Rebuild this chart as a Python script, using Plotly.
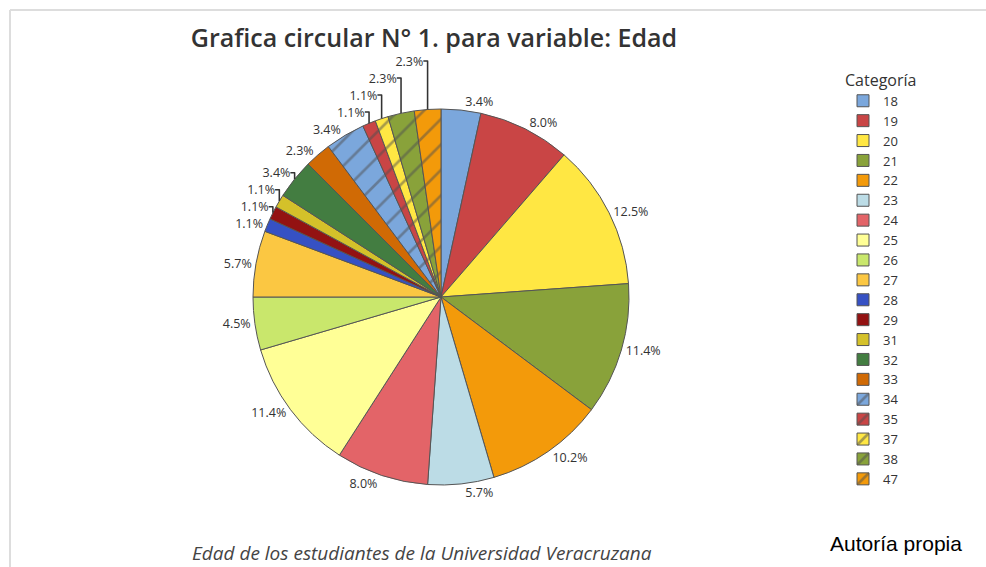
import plotly.graph_objects as go

categories = ["18", "19", "20", "21", "22", "23", "24", "25", "26", "27",
              "28", "29", "31", "32", "33", "34", "35", "37", "38", "47"]
counts = [3, 7, 11, 10, 9, 5, 7, 10, 4, 5, 1, 1, 1, 3, 2, 3, 1, 1, 2, 2]
colors = ["#7BA7DC", "#C94545", "#FFE743", "#89A23A", "#F39A0A", "#BCDCE6",
          "#E36468", "#FFFF96", "#C9E76C", "#FBC742", "#3651C4", "#931212",
          "#D4C12A", "#437D41", "#D06A05", "#7BA7DC", "#C94545", "#FFE743",
          "#89A23A", "#F39A0A"]
hatched = ["34", "35", "37", "38", "47"]

W, H = 986, 567


def px(x):
    return x / W


def py(y):
    return 1 - y / H


cx, cy, r = 441, 297, 188

fig = go.Figure(go.Pie(
    labels=categories,
    values=counts,
    sort=False,
    direction="clockwise",
    rotation=0,
    marker=dict(
        colors=colors,
        line=dict(color="#555555", width=1),
        pattern=dict(
            shape=["/" if c in hatched else "" for c in categories],
            fgcolor="#505050",
            bgcolor=colors,
            size=18,
            solidity=0.15,
            fillmode="overlay",
        ),
    ),
    textposition="outside",
    texttemplate="%{percent:.1%}",
    textfont=dict(family="Open Sans", size=12.5, color="#333333"),
    domain=dict(x=[px(cx - r), px(cx + r)],
                y=[py(cy + r), py(cy - r)]),
    automargin=False,
    showlegend=True,
))

fig.update_layout(
    width=W, height=H,
    margin=dict(l=0, r=0, t=0, b=0),
    paper_bgcolor="white",
    font=dict(family="Open Sans", color="#333333"),
    title=dict(text="Grafica circular N° 1. para variable: Edad",
               x=px(434), xanchor="center", y=py(38), yanchor="middle",
               font=dict(size=25, color="#333333", family="Open Sans",
                         weight=600)),
    legend=dict(
        title=dict(text="Categoría", font=dict(size=16, color="#333333")),
        x=px(843), xanchor="left", y=py(65), yanchor="top",
        font=dict(size=13, color="#333333"),
        tracegroupgap=0, itemwidth=30,
    ),
    annotations=[
        dict(text="<i>Edad de los estudiantes de la Universidad Veracruzana</i>",
             x=px(422), y=py(553), xref="paper", yref="paper",
             xanchor="center", yanchor="middle", showarrow=False,
             font=dict(size=19, color="#444444", family="Open Sans")),
        dict(text="Autoría propia",
             x=px(896), y=py(543), xref="paper", yref="paper",
             xanchor="center", yanchor="middle", showarrow=False,
             font=dict(size=21, color="#000000", family="Liberation Sans")),
    ],
    shapes=[
        dict(type="line", xref="paper", yref="paper",
             x0=px(10), x1=1, y0=py(10), y1=py(10),
             line=dict(color="#dddddd", width=2)),
        dict(type="line", xref="paper", yref="paper",
             x0=px(10), x1=px(10), y0=py(10), y1=0,
             line=dict(color="#dddddd", width=2)),
    ],
)

fig.write_html(
    "out.html",
    config={"displayModeBar": False},
    post_script="document.body.style.margin='0';"
                "document.documentElement.style.overflow='hidden';",
)
